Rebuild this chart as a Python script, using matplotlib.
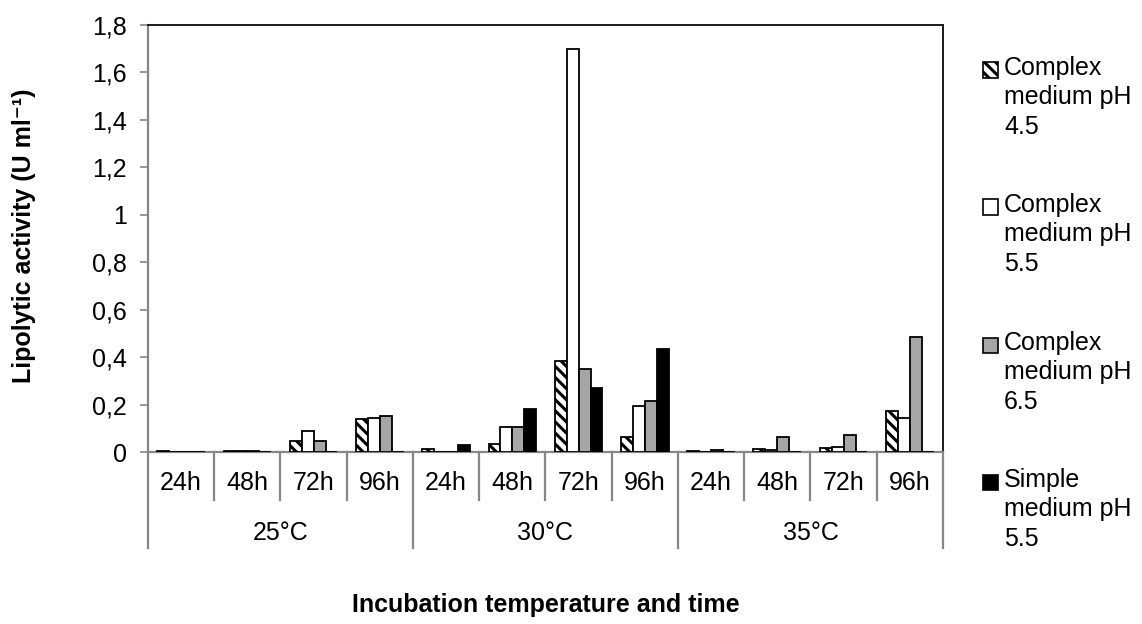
"""
Lipolytic activity per incubation temperature and time, grouped bar chart
with a two-level category axis.
"""
import numpy as np
import matplotlib
matplotlib.use("Agg")
import matplotlib.pyplot as plt
from matplotlib.patches import Rectangle

plt.rcParams['font.family'] = ['Liberation Sans', 'DejaVu Sans']
plt.rcParams['hatch.linewidth'] = 2.2

TEMPS = ["25°C", "30°C", "35°C"]
TIMES = ["24h", "48h", "72h", "96h"]

SERIES = ["Complex\nmedium pH\n4.5", "Complex\nmedium pH\n5.5",
          "Complex\nmedium pH\n6.5", "Simple\nmedium pH\n5.5"]

# one value per (temperature, time) pair, in TEMPS x TIMES order
complex_45 = [0.003, 0.003, 0.045, 0.140,
              0.012, 0.035, 0.385, 0.065,
              0.006, 0.012, 0.015, 0.175]
complex_55 = [0.002, 0.006, 0.090, 0.145,
              0.002, 0.105, 1.700, 0.195,
              0.002, 0.010, 0.022, 0.145]
complex_65 = [0.002, 0.003, 0.045, 0.150,
              0.002, 0.105, 0.350, 0.215,
              0.008, 0.065, 0.070, 0.485]
simple_55 = [0.0, 0.0, 0.0, 0.0,
             0.030, 0.180, 0.270, 0.435,
             0.0, 0.0, 0.0, 0.0]

YTICKS = [0, 0.2, 0.4, 0.6, 0.8, 1, 1.2, 1.4, 1.6, 1.8]
YTICK_LABELS = ["0", "0,2", "0,4", "0,6", "0,8", "1", "1,2", "1,4", "1,6", "1,8"]

STYLES = [
    dict(facecolor="white", hatch="\\\\\\"),
    dict(facecolor="white"),
    dict(facecolor="#A6A6A6"),
    dict(facecolor="black"),
]
AXIS_GRAY = "#868686"
FS = 18


def main():
    fig = plt.figure(figsize=(11.42, 6.24), dpi=100)
    ax = fig.add_axes([0.1296, 0.2756, 0.6961, 0.6844])

    n_cat = len(TEMPS) * len(TIMES)
    x = np.arange(n_cat) + 0.5
    width = 0.18
    values = [complex_45, complex_55, complex_65, simple_55]
    for i, (vals, style) in enumerate(zip(values, STYLES)):
        ax.bar(x + (i - 1.5) * width, vals, width=width, edgecolor="black",
               linewidth=1.3, zorder=3, **style)

    ax.set_xlim(0, n_cat)
    ax.set_ylim(0, 1.8)
    ax.set_yticks(YTICKS)
    ax.set_yticklabels(YTICK_LABELS, fontsize=FS)
    ax.tick_params(axis="y", length=6, width=1.2, color=AXIS_GRAY, pad=9)
    ax.set_xticks([])

    for side in ["left", "bottom"]:
        ax.spines[side].set_color(AXIS_GRAY)
        ax.spines[side].set_linewidth(1.6)
    for side in ["top", "right"]:
        ax.spines[side].set_color("#1a1a1a")
        ax.spines[side].set_linewidth(1.4)

    # two-level category axis below the plot
    ax_h = 427.0
    trans = ax.get_xaxis_transform()
    for k in range(n_cat + 1):
        low = -96 / ax_h if k % len(TIMES) == 0 else -48 / ax_h
        ax.plot([k, k], [0, low], color=AXIS_GRAY, lw=1.6, transform=trans,
                clip_on=False)
    for k in range(n_cat):
        ax.text(k + 0.5, -31 / ax_h, TIMES[k % len(TIMES)], transform=trans,
                ha="center", va="center", fontsize=FS)
    for g, temp in enumerate(TEMPS):
        ax.text(g * len(TIMES) + len(TIMES) / 2, -81 / ax_h, temp,
                transform=trans, ha="center", va="center", fontsize=FS)

    ax.text(0.5, -153 / ax_h, "Incubation temperature and time",
            transform=ax.transAxes, ha="center", va="center", fontsize=FS,
            fontweight="bold")
    fig.text(24 / 1142, 1 - 236 / 624, "Lipolytic activity (U ml⁻¹)",
             rotation=90, ha="center", va="center", fontsize=FS,
             fontweight="bold")

    # legend, marker beside the first line of each label
    W, H = 1142.0, 624.0
    first_lines = [70, 207, 345, 482]
    for label, style, yc in zip(SERIES, STYLES, first_lines):
        fig.patches.append(Rectangle((983 / W, 1 - (yc + 7.5) / H),
                                     15 / W, 15 / H, transform=fig.transFigure,
                                     edgecolor="black", linewidth=1.2,
                                     **style))
        fig.text(1004 / W, 1 - (yc - 14) / H, label, ha="left", va="top",
                 fontsize=FS, linespacing=1.28)

    fig.savefig("out.png", dpi=100)
    plt.close(fig)


if __name__ == "__main__":
    main()
